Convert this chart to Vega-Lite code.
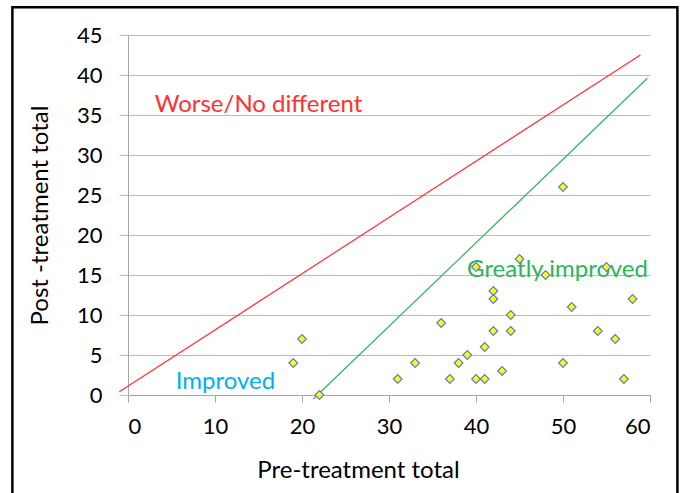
{
  "$schema": "https://vega.github.io/schema/vega-lite/v6.json",
  "width": 522,
  "height": 360,
  "autosize": {"type": "none"},
  "padding": {"left": 128, "top": 35, "right": 31, "bottom": 98},
  "background": "white",
  "config": {"view": {"stroke": null}, "font": "Lato"},
  "datasets": {
    "points": [
      {"x": 20, "y": 7}, {"x": 19, "y": 4}, {"x": 22, "y": 0}, {"x": 31, "y": 2},
      {"x": 50, "y": 26}, {"x": 45, "y": 17}, {"x": 48, "y": 15}, {"x": 40, "y": 16},
      {"x": 55, "y": 16}, {"x": 42, "y": 13}, {"x": 42, "y": 12}, {"x": 51, "y": 11},
      {"x": 58, "y": 12}, {"x": 44, "y": 10}, {"x": 36, "y": 9}, {"x": 42, "y": 8},
      {"x": 44, "y": 8}, {"x": 54, "y": 8}, {"x": 56, "y": 7}, {"x": 41, "y": 6},
      {"x": 39, "y": 5}, {"x": 33, "y": 4}, {"x": 38, "y": 4}, {"x": 50, "y": 4},
      {"x": 43, "y": 3}, {"x": 37, "y": 2}, {"x": 40, "y": 2}, {"x": 41, "y": 2},
      {"x": 57, "y": 2}
    ],
    "lines": [
      {"x": -1, "y": 0.4, "group": "worse"},
      {"x": 58.9, "y": 42.5, "group": "worse"},
      {"x": 21.3, "y": -0.5, "group": "great"},
      {"x": 59.7, "y": 39.6, "group": "great"}
    ],
    "labels": [
      {"label": "Worse/No different", "x": 3.07, "y": 35.4, "group": "worse"},
      {"label": "Greatly improved", "x": 38.97, "y": 14.8, "group": "great"},
      {"label": "Improved", "x": 5.48, "y": 0.75, "group": "improved"}
    ],
    "frame": [{"x": -13.29, "x2": 63.15, "y": 48.47, "y2": -14}]
  },
  "encoding": {
    "x": {
      "field": "x", "type": "quantitative",
      "scale": {"domain": [0, 60], "nice": false},
      "axis": {
        "title": "Pre-treatment total", "values": [0, 10, 20, 30, 40, 50, 60],
        "grid": false, "domainColor": "#a6a6a6", "tickColor": "#a6a6a6", "tickSize": 7,
        "labelFontSize": 22, "labelColor": "black", "labelPadding": 14, "labelFont": "Lato",
        "titleFontSize": 24, "titleFontWeight": "normal", "titleColor": "black", "titlePadding": 21, "titleFont": "Lato",
        "titleX": 230
      }
    },
    "y": {
      "field": "y", "type": "quantitative",
      "scale": {"domain": [0, 45], "nice": false},
      "axis": {
        "title": "Post -treatment total", "values": [0, 5, 10, 15, 20, 25, 30, 35, 40, 45],
        "grid": true, "gridColor": "#bcbcbc", "gridWidth": 1.2,
        "domainColor": "#a6a6a6", "tickColor": "#bcbcbc", "tickSize": 9, "tickWidth": 1.2,
        "labelFontSize": 22, "labelColor": "black", "labelPadding": 17, "labelFont": "Lato",
        "titleFontSize": 24, "titleFontWeight": "normal", "titleColor": "black", "titlePadding": 24, "titleFont": "Lato"
      }
    }
  },
  "layer": [
    {
      "data": {"name": "frame"},
      "mark": {"type": "rect", "fill": null, "stroke": "black", "strokeWidth": 2.5},
      "encoding": {
        "x2": {"field": "x2"},
        "y2": {"field": "y2"}
      }
    },
    {
      "data": {"name": "lines"},
      "mark": {"type": "line", "strokeWidth": 1.2},
      "encoding": {
        "detail": {"field": "group"},
        "color": {"field": "group", "type": "nominal", "scale": {"domain": ["worse", "great", "improved"], "range": ["#ff3030", "#2fb45a", "#00b0f0"]}, "legend": null}
      }
    },
    {
      "data": {"name": "labels"},
      "mark": {"type": "text", "align": "left", "baseline": "alphabetic", "fontSize": 24, "font": "Lato"},
      "encoding": {
        "text": {"field": "label"},
        "color": {"field": "group", "type": "nominal", "scale": {"domain": ["worse", "great", "improved"], "range": ["#ff0000", "#1faa50", "#00b0f0"]}, "legend": null}
      }
    },
    {
      "data": {"name": "points"},
      "mark": {"type": "point", "shape": "diamond", "filled": true, "size": 75, "fill": "#ffff00", "stroke": "#5b7cc8", "strokeWidth": 1.2, "opacity": 1},
      "encoding": {}
    }
  ]
}
